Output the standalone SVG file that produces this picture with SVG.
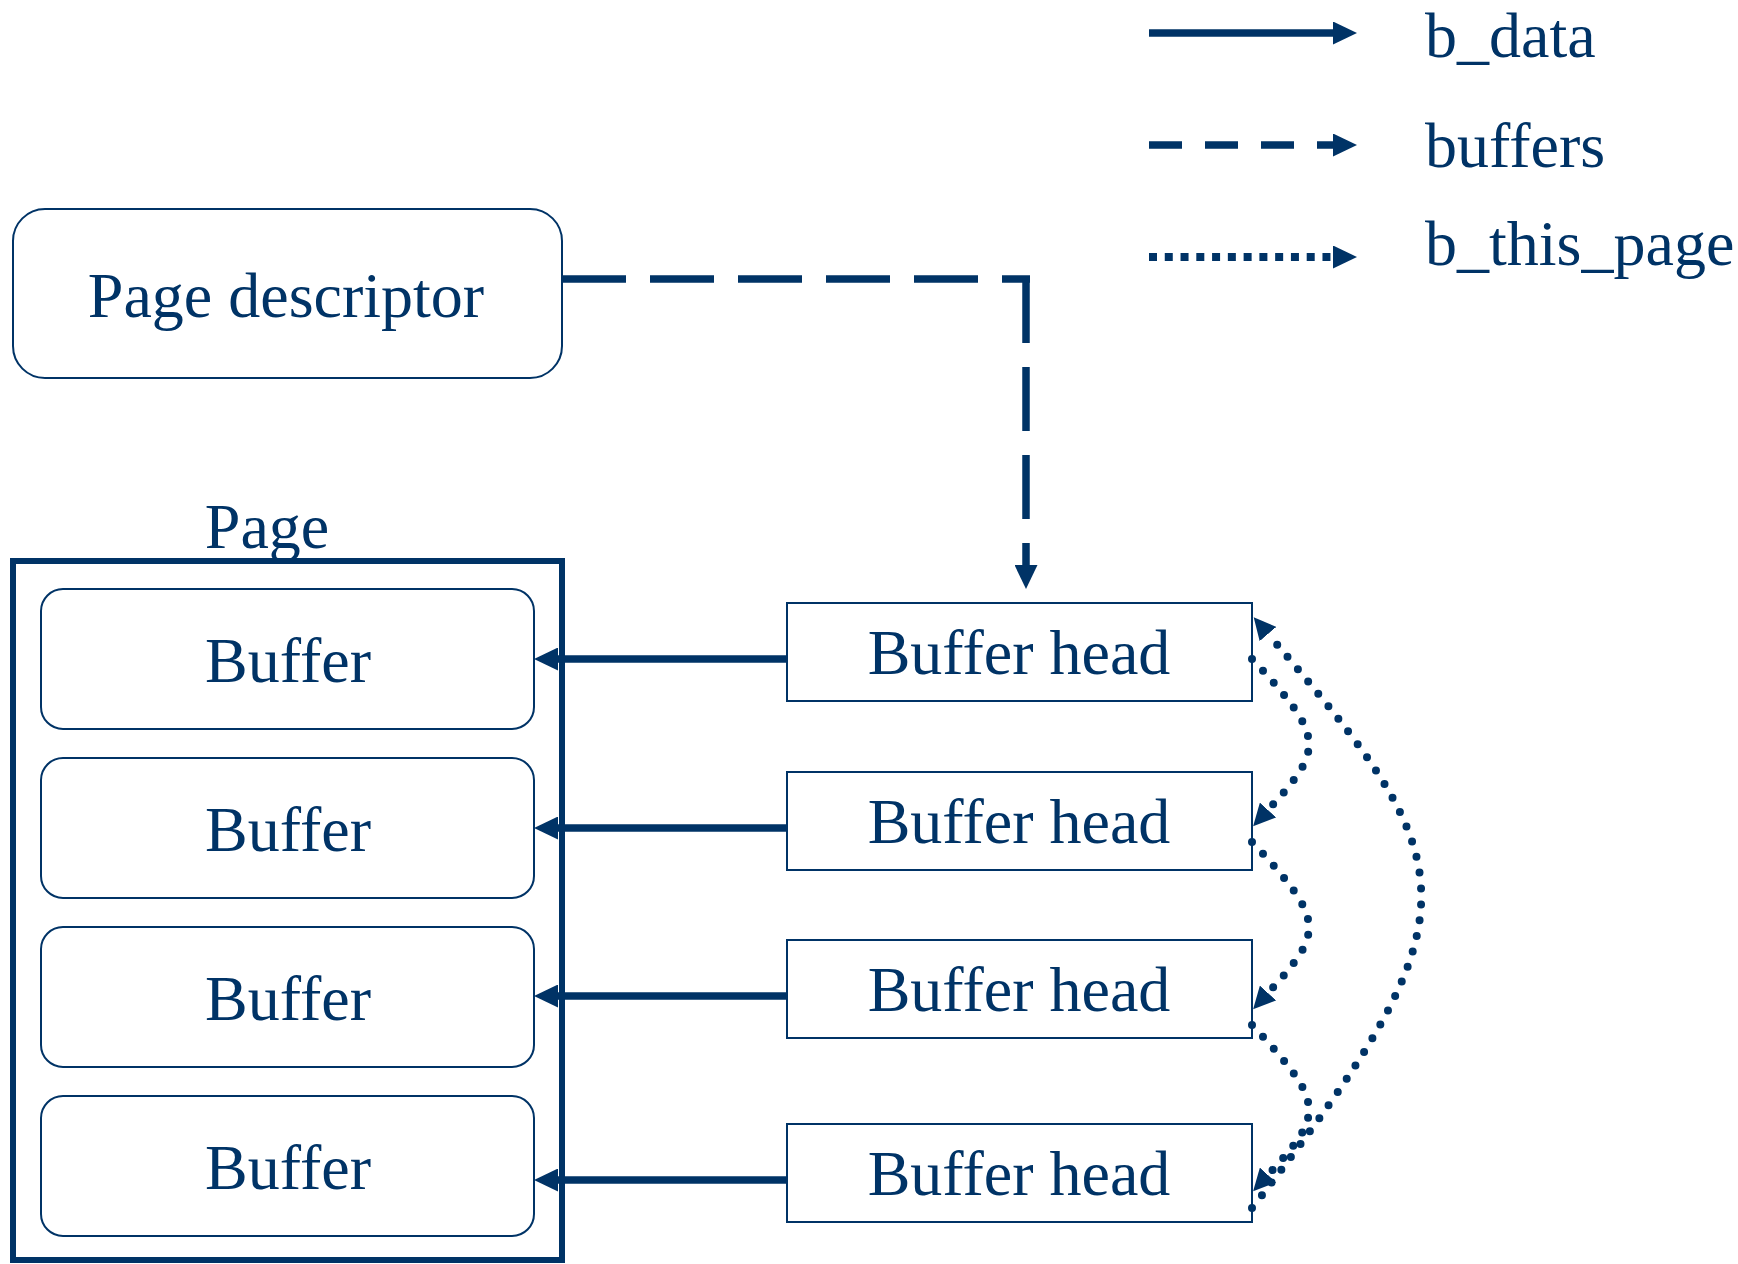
<svg xmlns="http://www.w3.org/2000/svg" width="1738" height="1264" viewBox="0 0 1738 1264">
  <style>
    .label { font-family: "Liberation Serif", "Times New Roman", serif; font-size: 64px; fill: #003366; }
    .mid { text-anchor: middle; }
    .box { fill: #ffffff; stroke: #003366; stroke-width: 2; }
    .frame { fill: none; stroke: #003366; stroke-width: 6; }
    .solid { fill: none; stroke: #003366; stroke-width: 7.5; }
    .dashed { fill: none; stroke: #003366; stroke-width: 7.5; stroke-dasharray: 64 24; }
    .dotted { fill: none; stroke: #003366; stroke-width: 8; stroke-linecap: round; stroke-dasharray: 0 16; }
  </style>
  <defs>
    <marker id="arrow" markerUnits="userSpaceOnUse" viewBox="0 0 24 23" markerWidth="24" markerHeight="23" refX="0" refY="11.5" orient="auto">
      <path d="M0,0 L24,11.5 L0,23 Z" fill="#003366"/>
    </marker>
    <marker id="arrowSmall" markerUnits="userSpaceOnUse" viewBox="0 0 22 22" markerWidth="22" markerHeight="22" refX="0" refY="11" orient="auto">
      <path d="M0,0 L22,11 L0,22 Z" fill="#003366"/>
    </marker>
  </defs>

  <rect width="1738" height="1264" fill="#ffffff"/>

  <!-- legend -->
  <g id="legend">
    <line class="solid" x1="1149" y1="33" x2="1333" y2="33" marker-end="url(#arrow)"/>
    <line x1="1149" y1="145" x2="1333" y2="145" stroke="#003366" stroke-width="7.5" stroke-dasharray="33 23" marker-end="url(#arrow)"/>
    <line x1="1149" y1="257" x2="1333" y2="257" stroke="#003366" stroke-width="8" stroke-dasharray="8 7.77" marker-end="url(#arrow)"/>
    <text class="label" x="1425" y="57">b_data</text>
    <text class="label" x="1425" y="167">buffers</text>
    <text class="label" x="1425" y="265">b_this_page</text>
  </g>

  <!-- page descriptor -->
  <g id="page-descriptor">
    <rect class="box" x="13" y="209" width="549" height="169" rx="32" ry="32"/>
    <text class="label mid" x="286" y="317">Page descriptor</text>
  </g>

  <!-- page with its buffers -->
  <g id="page">
    <text class="label mid" x="267" y="548">Page</text>
    <rect class="frame" x="13" y="561" width="549" height="699"/>
  </g>
  <g id="buffer-1">
    <rect class="box" x="41" y="589" width="493" height="140" rx="22" ry="22"/>
    <text class="label mid" x="288" y="682">Buffer</text>
  </g>
  <g id="buffer-2">
    <rect class="box" x="41" y="758" width="493" height="140" rx="22" ry="22"/>
    <text class="label mid" x="288" y="851">Buffer</text>
  </g>
  <g id="buffer-3">
    <rect class="box" x="41" y="927" width="493" height="140" rx="22" ry="22"/>
    <text class="label mid" x="288" y="1020">Buffer</text>
  </g>
  <g id="buffer-4">
    <rect class="box" x="41" y="1096" width="493" height="140" rx="22" ry="22"/>
    <text class="label mid" x="288" y="1189">Buffer</text>
  </g>

  <!-- buffer heads -->
  <g id="buffer-head-1">
    <rect class="box" x="787" y="603" width="465" height="98"/>
    <text class="label mid" x="1019" y="674">Buffer head</text>
  </g>
  <g id="buffer-head-2">
    <rect class="box" x="787" y="772" width="465" height="98"/>
    <text class="label mid" x="1019" y="843">Buffer head</text>
  </g>
  <g id="buffer-head-3">
    <rect class="box" x="787" y="940" width="465" height="98"/>
    <text class="label mid" x="1019" y="1011">Buffer head</text>
  </g>
  <g id="buffer-head-4">
    <rect class="box" x="787" y="1124" width="465" height="98"/>
    <text class="label mid" x="1019" y="1195">Buffer head</text>
  </g>

  <!-- connectors -->
  <g id="connectors">
    <!-- buffers -->
    <line class="dashed" x1="562" y1="279" x2="1030" y2="279"/>
    <line class="dashed" x1="1026" y1="279" x2="1026" y2="565" marker-end="url(#arrow)"/>
    <!-- b_data -->
    <line class="solid" x1="787" y1="659" x2="558" y2="659" marker-end="url(#arrow)"/>
    <line class="solid" x1="787" y1="828" x2="558" y2="828" marker-end="url(#arrow)"/>
    <line class="solid" x1="787" y1="996" x2="558" y2="996" marker-end="url(#arrow)"/>
    <line class="solid" x1="787" y1="1180" x2="558" y2="1180" marker-end="url(#arrow)"/>
    <!-- b_this_page -->
    <path class="dotted" d="M1252,659 C1326,738 1324,749 1268,810" marker-end="url(#arrowSmall)"/>
    <path class="dotted" d="M1252,842 C1326,921 1324,932 1268,993" marker-end="url(#arrowSmall)"/>
    <path class="dotted" d="M1252,1025 C1326,1104 1324,1114 1268,1175" marker-end="url(#arrowSmall)"/>
    <path class="dotted" d="M1252,1208 C1482,911 1468,867 1268,634" marker-end="url(#arrowSmall)"/>
  </g>
</svg>
